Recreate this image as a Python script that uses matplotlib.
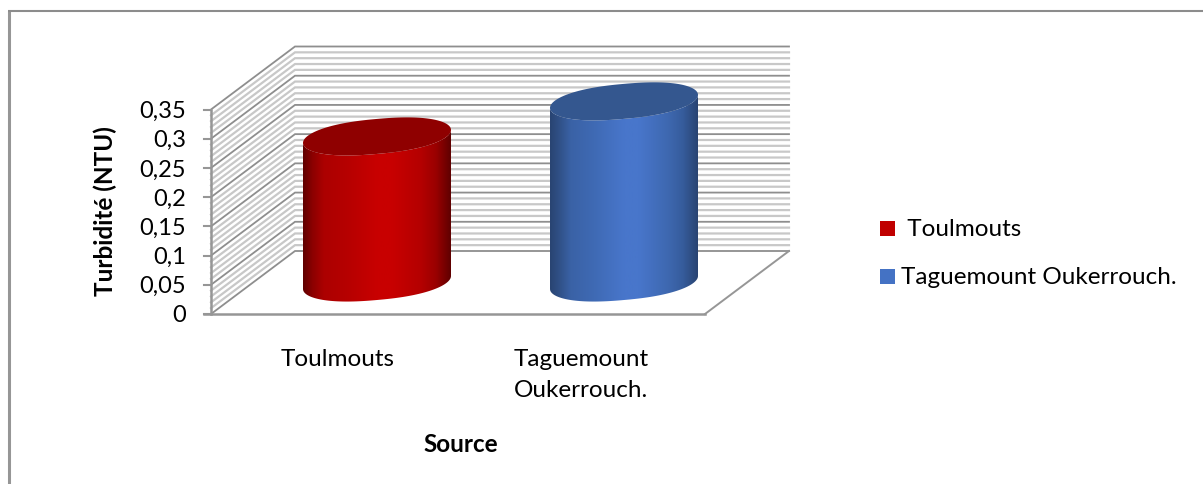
import numpy as np
import matplotlib
matplotlib.use('Agg')
import matplotlib.pyplot as plt
from matplotlib.colors import LinearSegmentedColormap
from matplotlib.patches import PathPatch, Rectangle
from matplotlib.path import Path

categories = ['Toulmouts', 'Taguemount\nOukerrouch.']
legend_names = [' Toulmouts', 'Taguemount Oukerrouch.']
values = [0.25, 0.31]
tick_values = [0, 0.05, 0.1, 0.15, 0.2, 0.25, 0.3, 0.35]
tick_labels = ['0', '0,05', '0,1', '0,15', '0,2', '0,25', '0,3', '0,35']
minor_values = [i / 100 for i in range(0, 36)]

plt.rcParams['font.family'] = ['Lato', 'DejaVu Sans']

W, H = 1203, 484
fig = plt.figure(figsize=(W / 100, H / 100), dpi=100)
ax = fig.add_axes([0, 0, 1, 1])
ax.set_xlim(0, W)
ax.set_ylim(H, 0)
ax.axis('off')

# box layout in pixels
x_front, x_end = 211, 705
y_zero, px_per_unit = 314, 204.5 / 0.35
dx, dy = 84, -63
base_y = y_zero + dy / 2


def val_y(v):
    return y_zero - v * px_per_unit


# chart frame, only left and top edges are there
ax.plot([8.5, 8.5], [H, 11], color='#969696', lw=2.2, solid_capstyle='butt')
ax.plot([7.5, W], [11, 11], color='#8c8c8c', lw=1.5, solid_capstyle='butt')

# walls: minor grid first, then the major lines on top
for v in minor_values:
    y = val_y(v)
    major = any(abs(v - t) < 1e-9 for t in tick_values)
    col = '#8e8e8e' if major else '#c8c8c8'
    lw = 1.3 if major else 1.6
    ax.plot([x_front, x_front + dx, x_end + dx], [y, y + dy, y + dy],
            color=col, lw=lw, zorder=2 if major else 1, solid_joinstyle='miter')

# floor and axes
ax.plot([x_end, x_end + dx], [y_zero, y_zero + dy], color='#969696', lw=1.4, zorder=2)
ax.plot([x_front - 7, x_end], [y_zero, y_zero], color='#969696', lw=1.8, zorder=3)
ax.plot([x_front, x_front], [val_y(0), val_y(0.35)], color='#969696', lw=1.8, zorder=3)
for v, lab in zip(tick_values, tick_labels):
    ax.plot([x_front - 7, x_front], [val_y(v), val_y(v)], color='#969696', lw=1.5, zorder=3)
    ax.text(186, val_y(v) + 2, lab, ha='right', va='center', fontsize=17, color='black')


def rim(t):
    # tilted rim outline, right side higher; squared off a little so the ends stay round
    c, s = np.cos(t), np.sin(t)
    c = np.sign(c) * np.abs(c) ** 0.85
    return c, -6.5 * c + 17.5 * s


def cylinder(x0, x1, top, cmap, top_col):
    cx, a = (x0 + x1) / 2, (x1 - x0) / 2
    t = np.linspace(0, np.pi, 80)
    c, off = rim(t)
    low_x, low_y = cx + a * c, base_y + off
    verts = np.column_stack([np.r_[low_x, low_x[::-1]], np.r_[low_y, top + off[::-1]]])
    # side wall with left-right shading, clipped to the body outline
    body = PathPatch(Path(np.vstack([verts, verts[0]]), closed=True), fc='none', ec='none')
    ax.add_patch(body)
    grad = np.linspace(0, 1, 256).reshape(1, -1)
    im = ax.imshow(grad, extent=[x0, x1, H, 0], cmap=cmap, vmin=0, vmax=1,
                   aspect='auto', zorder=4, interpolation='bilinear')
    im.set_clip_path(body)
    t = np.linspace(0, 2 * np.pi, 160)
    c, off = rim(t)
    ax.fill(cx + a * c, top + off, color=top_col, zorder=5, lw=0)


red_map = LinearSegmentedColormap.from_list('red_side', [
    (0, '#600000'), (0.06, '#8a0000'), (0.14, '#ac0000'), (0.3, '#b60000'), (0.5, '#c80000'),
    (0.6, '#c80000'), (0.8, '#b40000'), (0.9, '#9a0000'), (1, '#600000')])
blue_map = LinearSegmentedColormap.from_list('blue_side', [
    (0, '#294472'), (0.06, '#305086'), (0.14, '#3a62a6'), (0.3, '#3f6ab4'), (0.5, '#4876cb'),
    (0.6, '#4876cb'), (0.8, '#3e68b0'), (0.9, '#365c9c'), (1, '#294472')])

cyl_x = [(303, 451), (550, 698)]
maps = [red_map, blue_map]
top_cols = ['#8f0000', '#34578f']
for (x0, x1), v, m, tc in zip(cyl_x, values, maps, top_cols):
    cylinder(x0, x1, base_y - v * px_per_unit, m, tc)

ax.set_xlim(0, W)
ax.set_ylim(H, 0)

# category labels and titles
ax.text(337.5, 359, categories[0], ha='center', va='center', fontsize=17.5, color='black')
ax.text(581, 375, categories[1], ha='center', va='center', fontsize=17.5,
        color='black', linespacing=1.59)
ax.text(461, 444, 'Source', ha='center', va='center', fontsize=17.5,
        fontweight='bold', color='black')
ax.text(105, 211, 'Turbidité (NTU)', rotation=90, ha='center', va='center',
        fontsize=17.5, fontweight='bold', color='black')

# legend
legend_cols = ['#c00000', '#4472c4']
legend_y = [229, 277]
for name, col, y in zip(legend_names, legend_cols, legend_y):
    ax.add_patch(Rectangle((880, y - 8), 15, 15, fc=col, ec='none', zorder=4))
    ax.text(901, y + 1, name, ha='left', va='center', fontsize=17.5, color='black')

fig.savefig('out.png', dpi=100)
